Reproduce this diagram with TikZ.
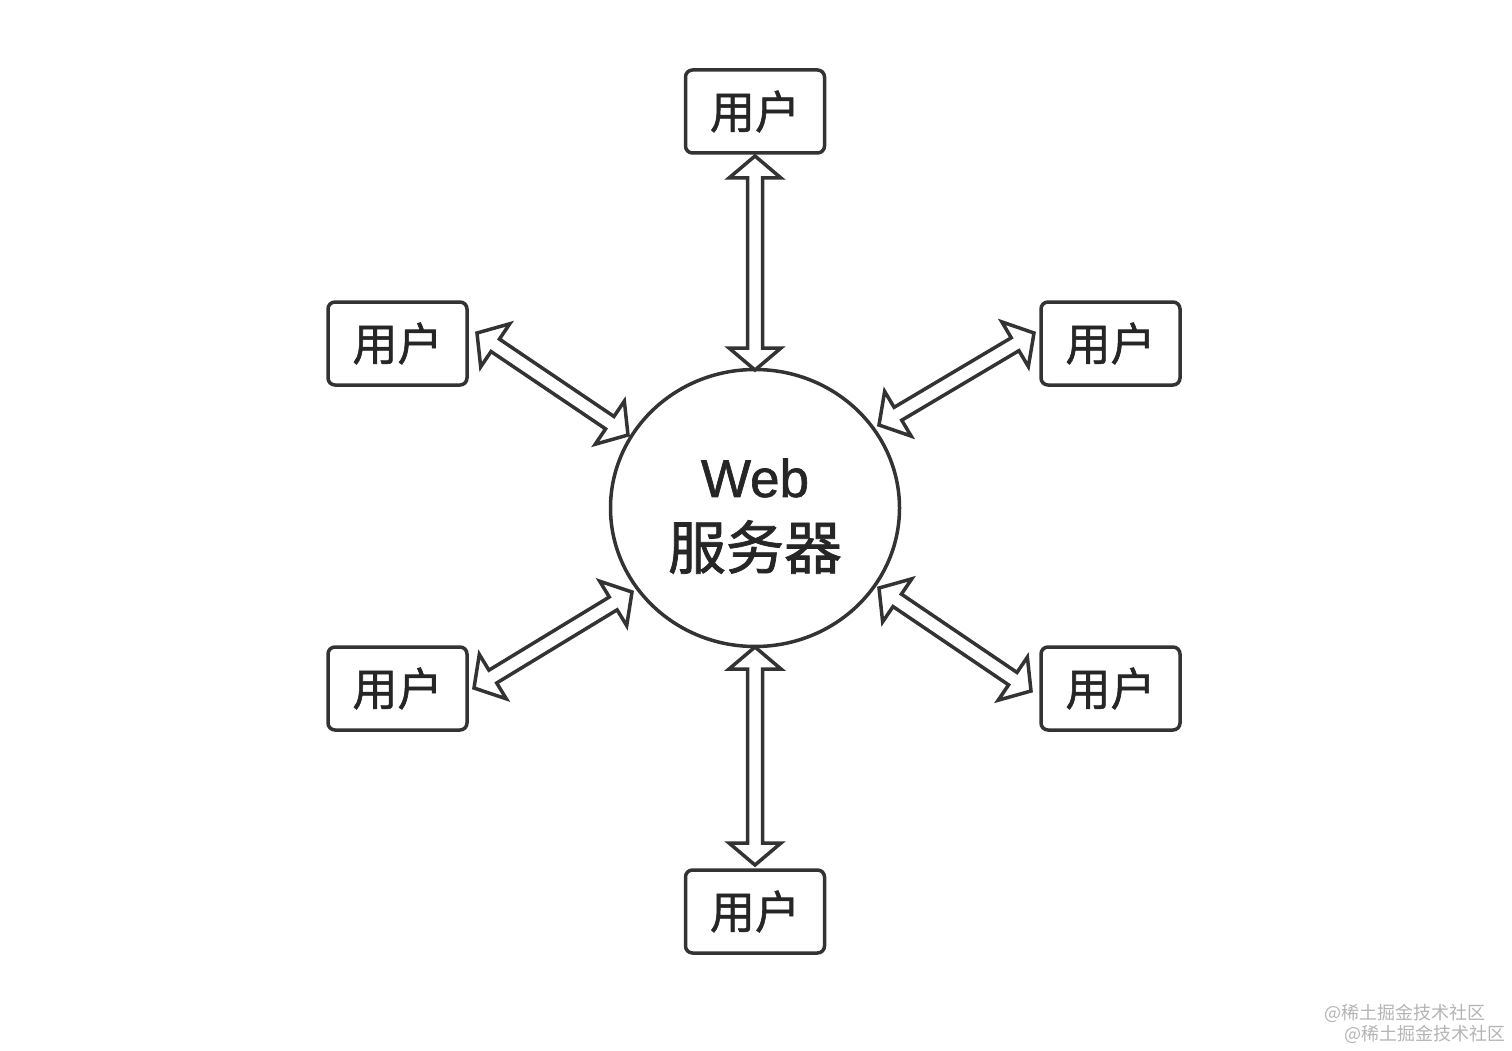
\documentclass[tikz,border=0pt]{standalone}
\usepackage{fontspec}
\setmainfont[FakeBold=1.2]{Liberation Sans}
\newfontfamily\cjk[FakeBold=1.3]{Noto Sans CJK SC}
\newfontfamily\cjkw{Noto Sans CJK SC}
\usetikzlibrary{calc,shapes.geometric}
\definecolor{ln}{HTML}{333333}
\definecolor{tx}{HTML}{262626}
\definecolor{wm}{HTML}{B4B4B4}
\tikzset{
 userbox/.style={draw=ln, line width=3.5pt, rounded corners=7pt, minimum width=139pt, minimum height=83pt, inner sep=0pt, font=\cjk\fontsize{45}{52}\selectfont, text=tx},
 server/.style={ellipse, draw=ln, line width=3.5pt, minimum width=289pt, minimum height=277pt, inner sep=0pt},
 dbl/.style={draw=ln, line width=3.5pt, line join=miter, fill=white},
 wmark/.style={font=\cjkw\fontsize{18}{20}\selectfont, text=wm, inner sep=0pt},
}
\def\arrHL{22pt}\def\arrHW{26pt}\def\arrSW{7.5pt}
\newcommand\dblarrow[2]{%
 \draw[dbl] (#1)
 -- ($(#1)!\arrHL!(#2)!\arrHW!90:(#2)$)
 -- ($(#1)!\arrHL!(#2)!\arrSW!90:(#2)$)
 -- ($(#2)!\arrHL!(#1)!\arrSW!-90:(#1)$)
 -- ($(#2)!\arrHL!(#1)!\arrHW!-90:(#1)$)
 -- (#2)
 -- ($(#2)!\arrHL!(#1)!\arrHW!90:(#1)$)
 -- ($(#2)!\arrHL!(#1)!\arrSW!90:(#1)$)
 -- ($(#1)!\arrHL!(#2)!\arrSW!-90:(#2)$)
 -- ($(#1)!\arrHL!(#2)!\arrHW!-90:(#2)$)
 -- cycle;}
\begin{document}
\begin{tikzpicture}[x=1pt,y=-1pt]
\useasboundingbox[fill=white] (0,0) rectangle (1512,1051);
% server
\node[server] (srv) at (755,508) {};
\node[font=\fontsize{53}{60}\selectfont, text=tx, inner sep=0pt] (srvweb) at (755,478) {Web};
\node[font=\cjk\fontsize{58}{66}\selectfont, text=tx, inner sep=0pt] (srvcn) at (755,547) {服务器};
% users
\node[userbox] (ut)  at (755,111.5) {用户};
\node[userbox] (ul)  at (397.5,343.5) {用户};
\node[userbox] (ur)  at (1110.5,343.5) {用户};
\node[userbox] (ll)  at (397.5,688.5) {用户};
\node[userbox] (lr)  at (1110.5,688.5) {用户};
\node[userbox] (ub)  at (755,911.5) {用户};
% arrow end points
\coordinate (t1) at (755,156);   \coordinate (t2) at (755,370);
\coordinate (b1) at (755,647);   \coordinate (b2) at (755,865);
\coordinate (a1) at (477,333);   \coordinate (a2) at (628,435);
\coordinate (c1) at (1034,333);  \coordinate (c2) at (879,425);
\coordinate (d1) at (474,688);   \coordinate (d2) at (632,592);
\coordinate (e1) at (1031,691);  \coordinate (e2) at (879,588);
\dblarrow{t1}{t2}
\dblarrow{b1}{b2}
\dblarrow{a1}{a2}
\dblarrow{c1}{c2}
\dblarrow{d1}{d2}
\dblarrow{e1}{e2}
% watermark
\node[wmark] (wm1) at (1405,1013) {@稀土掘金技术社区};
\node[wmark] (wm2) at (1425,1034) {@稀土掘金技术社区};
\end{tikzpicture}
\end{document}
